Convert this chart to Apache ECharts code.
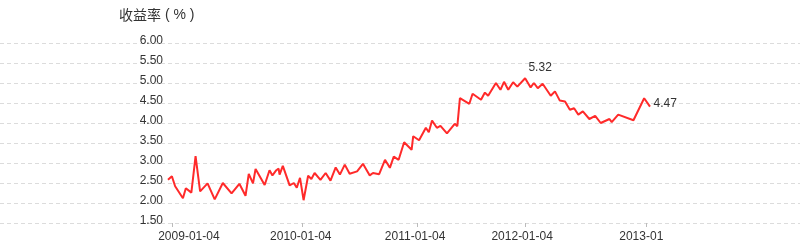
<!DOCTYPE html>
<html>
<head>
<meta charset="utf-8">
<script src="https://cdn.jsdelivr.net/npm/echarts@6/dist/echarts.min.js"></script>
<style>
html,body{margin:0;padding:0;background:#fff;}
#chart{width:800px;height:245px;}
</style>
</head>
<body>
<div id="chart"></div>
<script>
const dates = [
'2008-12-23','2009-01-04','2009-01-14','2009-01-19','2009-02-07','2009-02-16','2009-03-05','2009-03-18',
'2009-04-01','2009-04-24','2009-05-16','2009-06-10','2009-07-07','2009-07-31','2009-08-19','2009-08-29',
'2009-09-11','2009-09-19','2009-10-17','2009-11-01','2009-11-10','2009-11-22','2009-11-29','2009-12-02',
'2009-12-12','2010-01-02','2010-01-15','2010-01-24','2010-02-03','2010-02-14','2010-02-28','2010-03-10',
'2010-03-20','2010-04-07','2010-04-23','2010-05-08','2010-05-24','2010-06-06','2010-06-21','2010-07-06',
'2010-07-29','2010-08-04','2010-08-16','2010-09-06','2010-09-16','2010-10-05','2010-10-23','2010-11-07',
'2010-11-19','2010-12-04','2010-12-21','2011-01-13','2011-01-18','2011-02-05','2011-02-26','2011-03-07',
'2011-03-17','2011-04-01','2011-04-12','2011-05-02','2011-05-26','2011-06-03','2011-06-11','2011-07-10',
'2011-07-20','2011-08-15','2011-08-27','2011-09-06','2011-09-30','2011-10-14','2011-10-25','2011-11-07',
'2011-11-22','2011-12-05','2011-12-29','2012-01-15','2012-01-25','2012-02-06','2012-02-21','2012-03-17',
'2012-03-30','2012-04-14','2012-04-30','2012-05-15','2012-05-28','2012-06-10','2012-06-24','2012-07-14',
'2012-08-01','2012-08-18','2012-09-14','2012-09-21','2012-10-11','2012-11-27','2012-12-30','2013-01-17'
];
const values = [
2.58,2.67,2.42,2.39,2.12,2.37,2.26,3.17,
2.29,2.49,2.09,2.50,2.24,2.48,2.18,2.73,
2.49,2.85,2.45,2.82,2.69,2.82,2.86,2.71,
2.93,2.44,2.50,2.38,2.63,2.07,2.68,2.60,
2.75,2.58,2.75,2.56,2.89,2.71,2.96,2.73,
2.79,2.75,2.98,2.69,2.75,2.72,3.08,2.88,
3.16,3.08,3.52,3.33,3.67,3.57,3.88,3.77,
4.06,3.88,3.93,3.74,3.98,3.92,4.62,4.48,
4.73,4.58,4.76,4.68,5.00,4.83,5.03,4.83,
5.02,4.91,5.12,4.89,5.00,4.87,4.98,4.68,
4.79,4.56,4.54,4.33,4.37,4.21,4.29,4.10,
4.18,4.00,4.10,4.02,4.21,4.07,4.62,4.41
];
const tickDates = ['2009-01-04','2010-02-10','2011-01-30','2011-12-29','2013-01-04'];
const tickLabels = ['2009-01-04','2010-01-04','2011-01-04','2012-01-04','2013-01'];
const yTicks = [1.5, 2.0, 2.5, 3.0, 3.5, 4.0, 4.5, 5.0, 5.5, 6.0];
const markDates = ['2011-12-29','2013-01-17'];
const markTexts = ['5.32','4.47'];
const yTitleMain = '收益率';
const yTitleUnit = ' ( % )';

function ts(s){const p=s.split('-').map(Number);return Date.UTC(p[0],p[1]-1,p[2]);}
const tickTimes = tickDates.map(ts);
const labelPad = [[0,0,0,34],[0,3,0,0],[0,4,0,0],[0,6,0,0],[0,9,0,0]];
const font = '"Liberation Sans", Arial, sans-serif';
const rich = {};
labelPad.forEach((p,i)=>{rich['s'+i]={padding:p,fontSize:12,color:'#333',fontFamily:font};});

const yMin = yTicks[0], yMax = yTicks[yTicks.length-1], yInt = yTicks[1]-yTicks[0];

const markData = markDates.map((d,j)=>{
  const i = dates.indexOf(d);
  return {
    name: markTexts[j],
    coord: [ts(d), values[i]],
    label: j===0 ? {position:'top', distance:4, offset:[15,0]} : {position:'right', distance:3, offset:[0,-3]}
  };
});

const chart = echarts.init(document.getElementById('chart'), null, {renderer:'canvas'});
chart.setOption({
  animation:false,
  backgroundColor:'#fff',
  title:{text:'{c|'+yTitleMain+'}{u|'+yTitleUnit+'}',left:119,top:8,padding:0,
    textStyle:{fontSize:14,fontWeight:'normal',color:'#333',
      rich:{
        c:{fontSize:14,color:'#333',fontFamily:'"Noto Sans CJK SC", sans-serif'},
        u:{fontSize:14,color:'#333',fontFamily:'"Liberation Sans", Arial, sans-serif'}
      }}},
  grid:[
    {left:0,right:0,top:43,height:180},
    {left:168,right:150,top:43,height:180}
  ],
  xAxis:[
    {type:'value',gridIndex:0,show:false,min:0,max:1},
    {type:'value',gridIndex:1,min:ts(dates[0]),max:ts(dates[dates.length-1]),
     axisLine:{show:false},splitLine:{show:false},
     axisTick:{show:true,customValues:tickTimes,length:4,lineStyle:{color:'#bbb'}},
     axisLabel:{customValues:tickTimes,margin:8,fontSize:12,color:'#333',fontFamily:font,rich:rich,
       hideOverlap:false,showMinLabel:true,showMaxLabel:true,
       formatter:function(v){
         let best=0,bd=Infinity;
         tickTimes.forEach((t,i)=>{const d=Math.abs(t-v);if(d<bd){bd=d;best=i;}});
         return '{s'+best+'|'+tickLabels[best]+'}';
       }}
    }
  ],
  yAxis:[
    {type:'value',gridIndex:0,min:yMin,max:yMax,interval:yInt,
     axisLabel:{show:false},axisLine:{show:false},axisTick:{show:false},
     splitLine:{show:true,lineStyle:{type:[4,3],color:'#dcdcdc',width:1}}},
    {type:'value',gridIndex:1,min:yMin,max:yMax,interval:yInt,
     splitLine:{show:false},axisLine:{show:false},axisTick:{show:false},
     axisLabel:{formatter:v=>v.toFixed(2),margin:5,fontSize:12,color:'#333',fontFamily:font,
       verticalAlign:'bottom',lineHeight:5}}
  ],
  series:[{
    type:'line',xAxisIndex:1,yAxisIndex:1,
    data:dates.map((d,i)=>[ts(d),values[i]]),
    showSymbol:false,symbol:'none',
    lineStyle:{color:'#ff2a2a',width:2},
    markPoint:{
      symbol:'circle',symbolSize:1,itemStyle:{color:'rgba(0,0,0,0)'},
      label:{show:true,color:'#333',fontSize:12,fontFamily:font,formatter:p=>p.name},
      data:markData
    }
  }]
});
</script>
</body>
</html>
